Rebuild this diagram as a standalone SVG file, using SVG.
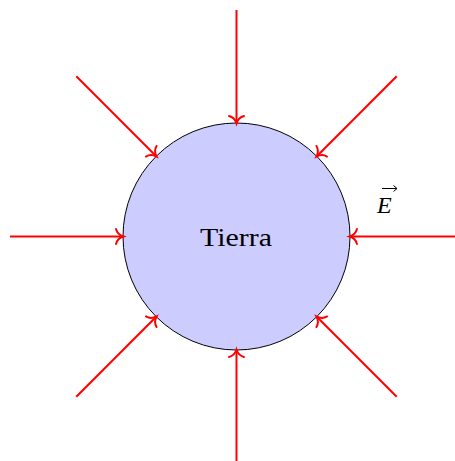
<svg xmlns="http://www.w3.org/2000/svg" width="455" height="461" viewBox="0 0 455 461">
  <style>
    .field { stroke: #ff0000; stroke-width: 2; fill: none; marker-end: url(#to); }
    .lbl { font-family: "Liberation Serif", "DejaVu Serif", serif; fill: #000; }
  </style>
  <defs>
    <marker id="to" markerUnits="userSpaceOnUse" markerWidth="20" markerHeight="20" viewBox="-10 -10 20 20" refX="0" refY="0" orient="auto" overflow="visible">
      <path d="M -7 -7.5 C -6 -3.5, -2 -0.8, 0.5 0 C -2 0.8, -6 3.5, -7 7.5" stroke="#ff0000" stroke-width="2" fill="none" stroke-linecap="round"/>
    </marker>
  </defs>
  <g id="earth">
    <circle cx="236.5" cy="236.5" r="113.5" fill="#ccccff" stroke="#000" stroke-width="1"/>
    <text class="lbl" x="236" y="245.5" font-size="25" text-anchor="middle" textLength="72" lengthAdjust="spacingAndGlyphs">Tierra</text>
  </g>
  <g id="connectors">
    <line class="field" x1="236.5" y1="10" x2="236.5" y2="123"/>
    <line class="field" x1="236.5" y1="463" x2="236.5" y2="350"/>
    <line class="field" x1="10" y1="236.5" x2="123" y2="236.5"/>
    <line class="field" x1="463" y1="236.5" x2="350" y2="236.5"/>
    <line class="field" x1="76.3" y1="76.3" x2="156.2" y2="156.2"/>
    <line class="field" x1="396.7" y1="76.3" x2="316.8" y2="156.2"/>
    <line class="field" x1="76.3" y1="396.7" x2="156.2" y2="316.8"/>
    <line class="field" x1="396.7" y1="396.7" x2="316.8" y2="316.8"/>
  </g>
  <g id="label-E">
    <text class="lbl" x="377" y="212.5" font-size="24" font-style="italic">E</text>
    <line x1="382" y1="188.5" x2="396.5" y2="188.5" stroke="#000" stroke-width="1"/>
    <path d="M 393.5 185.5 L 397 188.5 L 393.5 191.5" stroke="#000" stroke-width="1" fill="none"/>
  </g>
</svg>
